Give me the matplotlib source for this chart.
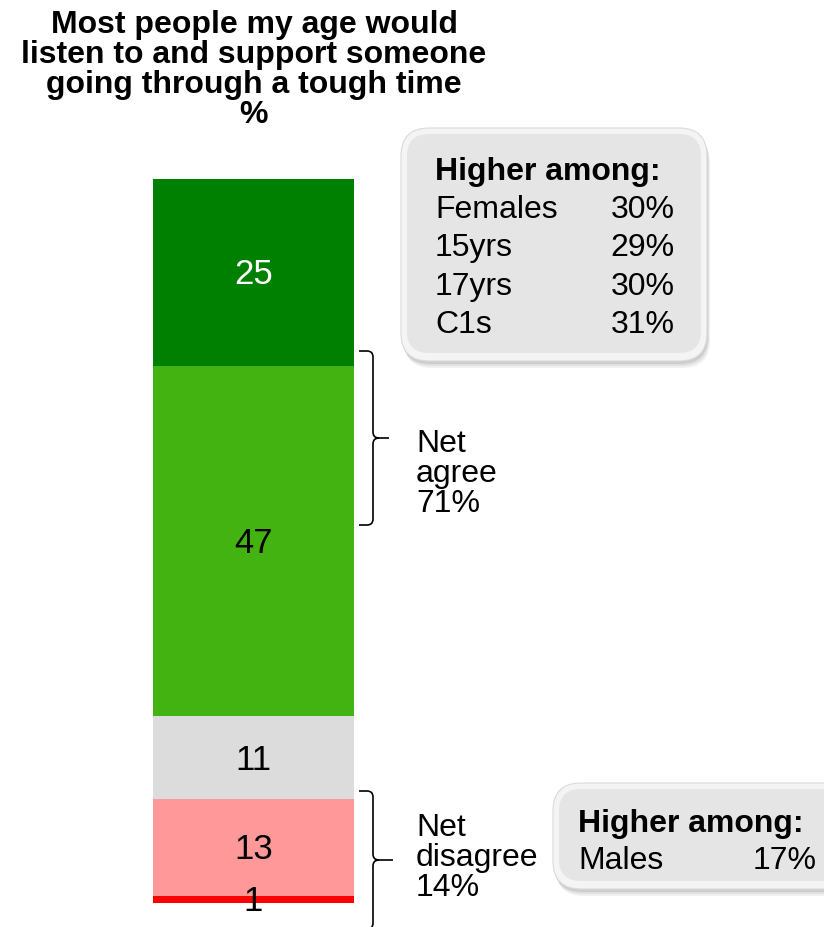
import matplotlib.pyplot as plt
from matplotlib.patches import FancyBboxPatch
from matplotlib.path import Path
from matplotlib.patches import PathPatch

plt.rcParams['font.family'] = ['Liberation Sans', 'DejaVu Sans']

# data (bottom to top)
segments = ['Strongly disagree', 'Disagree', 'Neither', 'Agree', 'Strongly agree']
values = [1, 13, 11, 47, 25]
colors = ['#ff0000', '#ff9999', '#dcdcdc', '#43b311', '#008000']
label_colors = ['black', 'black', 'black', 'black', 'white']

title_lines = ["Most people my age would", "listen to and support someone",
               "going through a tough time", "%"]
net_agree = ['Net', 'agree', '71%']
net_disagree = ['Net', 'disagree', '14%']
box1_rows = [('Females', '30%'), ('15yrs', '29%'), ('17yrs', '30%'), ('C1s', '31%')]
box2_rows = [('Males', '17%')]

W, H = 824, 927
fig = plt.figure(figsize=(W / 100, H / 100), dpi=100)

# bar axes: bar occupies x 153-354, y 179-903 (pixels)
ax = fig.add_axes([153 / W, (H - 903) / H, 201 / W, 724 / H])
bottom = 0
for v, c, lc in zip(values, colors, label_colors):
    ax.bar(0, v, width=1.0, bottom=bottom, color=c, linewidth=0)
    ax.text(0, bottom + v / 2 - 0.35, str(v), ha='center', va='center',
            fontsize=25, color=lc)
    bottom += v
ax.set_xlim(-0.5, 0.5)
ax.set_ylim(0, sum(values))
ax.axis('off')

# overlay in pixel coordinates
ov = fig.add_axes([0, 0, 1, 1])
ov.set_xlim(0, W)
ov.set_ylim(H, 0)
ov.axis('off')
ov.patch.set_alpha(0)

for i, line in enumerate(title_lines):
    ov.text(254, 33 + i * 30, line, ha='center', va='baseline', fontsize=23,
            fontweight='bold')


def brace(x0, xs, xt, y_top, y_mid, y_bot, r=6):
    verts = [(x0, y_top), (xs - r, y_top), (xs, y_top), (xs, y_top + r),
             (xs, y_mid - r), (xs, y_mid), (xs + r, y_mid), (xt, y_mid),
             (xs + r, y_mid), (xs, y_mid), (xs, y_mid + r),
             (xs, y_bot - r), (xs, y_bot), (xs - r, y_bot), (x0, y_bot)]
    codes = [Path.MOVETO, Path.LINETO, Path.CURVE3, Path.CURVE3,
             Path.LINETO, Path.CURVE3, Path.CURVE3, Path.LINETO,
             Path.MOVETO, Path.CURVE3, Path.CURVE3,
             Path.LINETO, Path.CURVE3, Path.CURVE3, Path.LINETO]
    ov.add_patch(PathPatch(Path(verts, codes), facecolor='none', edgecolor='black', lw=1.2))


brace(359, 373, 389, 351, 438, 525)
brace(359, 373, 393, 791, 860, 929)

for i, s in enumerate(net_agree):
    ov.text(416, 452 + i * 30, s, ha='left', va='baseline', fontsize=23)
for i, s in enumerate(net_disagree):
    ov.text(416, 836 + i * 30, s, ha='left', va='baseline', fontsize=23)


def callout(x, y, w, h):
    for k, a in enumerate([0.10, 0.14, 0.18]):
        d = 6 - 2 * k
        ov.add_patch(FancyBboxPatch((x + d / 2, y + d + 1), w, h,
                                    boxstyle='round,pad=0,rounding_size=28',
                                    facecolor='#7a7a7a', edgecolor='none', alpha=a))
    ov.add_patch(FancyBboxPatch((x, y), w, h, boxstyle='round,pad=0,rounding_size=28',
                                facecolor='#f4f4f4', edgecolor='#dadada', lw=0.8))
    ov.add_patch(FancyBboxPatch((x + 6, y + 6), w - 12, h - 14,
                                boxstyle='round,pad=0,rounding_size=22',
                                facecolor='#e5e5e5', edgecolor='none'))


callout(401, 128, 306, 233)
callout(553, 783, 300, 106)

ov.text(435, 180, 'Higher among:', ha='left', va='baseline', fontsize=23, fontweight='bold')
for i, (name, pct) in enumerate(box1_rows):
    yy = 218 + i * 38.3
    ov.text(435, yy, name, ha='left', va='baseline', fontsize=23)
    ov.text(675, yy, pct, ha='right', va='baseline', fontsize=23)

ov.text(578, 832, 'Higher among:', ha='left', va='baseline', fontsize=23, fontweight='bold')
for i, (name, pct) in enumerate(box2_rows):
    yy = 869 + i * 38
    ov.text(578, yy, name, ha='left', va='baseline', fontsize=23)
    ov.text(817, yy, pct, ha='right', va='baseline', fontsize=23)

fig.savefig('out.png', dpi=100)
